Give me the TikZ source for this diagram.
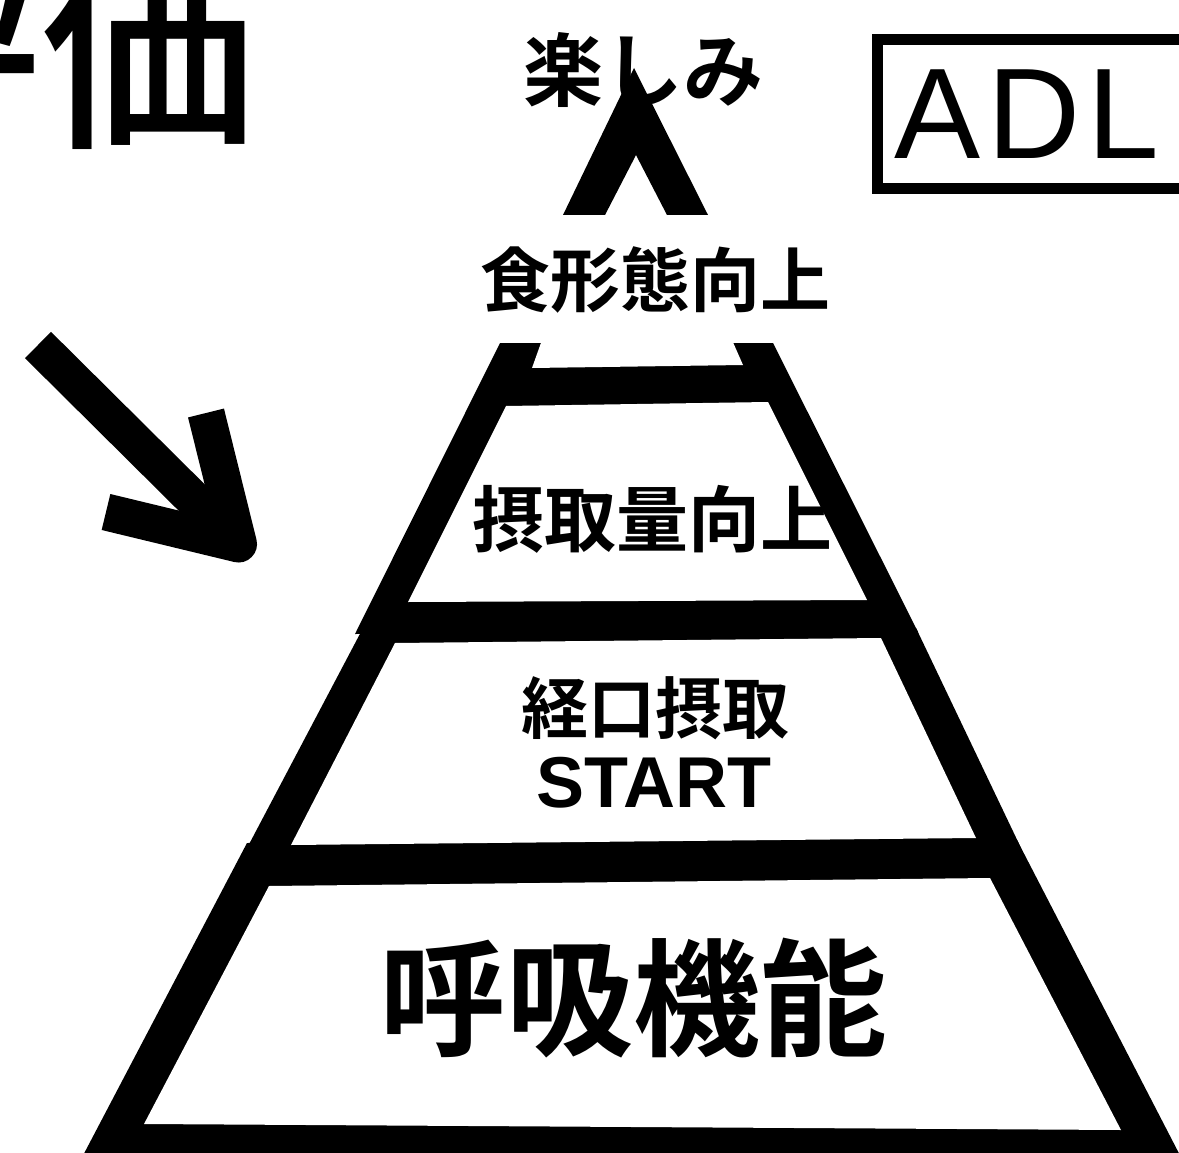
\documentclass[tikz,border=0pt]{standalone}
\usepackage{fontspec}
\newfontfamily\cjk{Noto Sans CJK JP Bold}
\IfFontExistsTF{Noto Sans CJK JP Medium}
  {\newfontfamily\cjkmed{Noto Sans CJK JP Medium}}
  {\newfontfamily\cjkmed{Noto Sans CJK JP Bold}}
\newfontfamily\arialf{Liberation Sans}
\newfontfamily\arialb{Liberation Sans Bold}
\begin{document}
\begin{tikzpicture}[x=1pt,y=-1pt,
  blk/.style={fill=black,draw=none},
  wht/.style={fill=white,draw=none},
  lbl/.style={inner sep=0pt,outer sep=0pt,anchor=center,text=black},
  thickarrow/.style={line width=37pt,line cap=butt,line join=round}]
\useasboundingbox (0,0) rectangle (1179,1153);
\clip (0,0) rectangle (1179,1153);
\fill[white] (0,0) rectangle (1179,1153);

% pyramid: black outlines
\fill[blk] (500,343) -- (773,343) -- (918,632) -- (355,634) -- cycle;
\fill[blk] (362,630) -- (916,628) -- (1021,848) -- (246,850) -- cycle;
\fill[blk] (247,843) -- (1017,840) -- (1185,1165) -- (78,1165) -- cycle;
% white interiors
\fill[wht] (542,340) -- (732,340) -- (743,365) -- (532,368) -- cycle;
\fill[wht] (506,406) -- (768,402) -- (867,600) -- (408,602) -- cycle;
\fill[wht] (395,643) -- (881,638) -- (976,838) -- (291,845) -- cycle;
\fill[wht] (269,886) -- (990,878) -- (1121,1130) -- (144,1124) -- cycle;

% up chevron
\fill[blk] (563,215) -- (634,68) -- (708,215) -- (667,215) -- (636,155) -- (605,215) -- cycle;

% diagonal arrow
\coordinate (ashaft) at (38,345);
\coordinate (atip) at (238.5,544);
\coordinate (aleft) at (106,512);
\coordinate (aup) at (206,413);
\draw[thickarrow] (ashaft) -- (232,537.5);
\draw[thickarrow] (aleft) -- (atip) -- (aup);

% ADL box
\draw[line width=11pt] (877.5,39.5) rectangle (1200,188.5);
\node[inner sep=0pt,anchor=base west] (adl) at (894,159)
  {\arialf\addfontfeature{LetterSpace=5.5}\fontsize{129}{140}\selectfont ADL};

% texts
\node[inner sep=0pt,anchor=south east] (hyoka) at (257,150) {\cjkmed\fontsize{215}{230}\selectfont 評価};
\node[lbl] (tanoshimi) at (643,70) {\cjk\fontsize{80}{90}\selectfont 楽しみ};
\node[lbl] (shokukeitai) at (655.5,280) {\cjk\fontsize{70}{80}\selectfont 食形態向上};
\node[lbl] (sesshuryo) at (652.5,519.5) {\cjk\fontsize{72}{80}\selectfont 摂取量向上};
\node[lbl] (keiko) at (655,708) {\cjk\fontsize{67}{75}\selectfont 経口摂取};
\node[lbl] (start) at (654,783) {\arialb\fontsize{72}{80}\selectfont START};
\node[lbl] (kokyu) at (633,998) {\cjk\fontsize{127}{140}\selectfont 呼吸機能};
\end{tikzpicture}
\end{document}
